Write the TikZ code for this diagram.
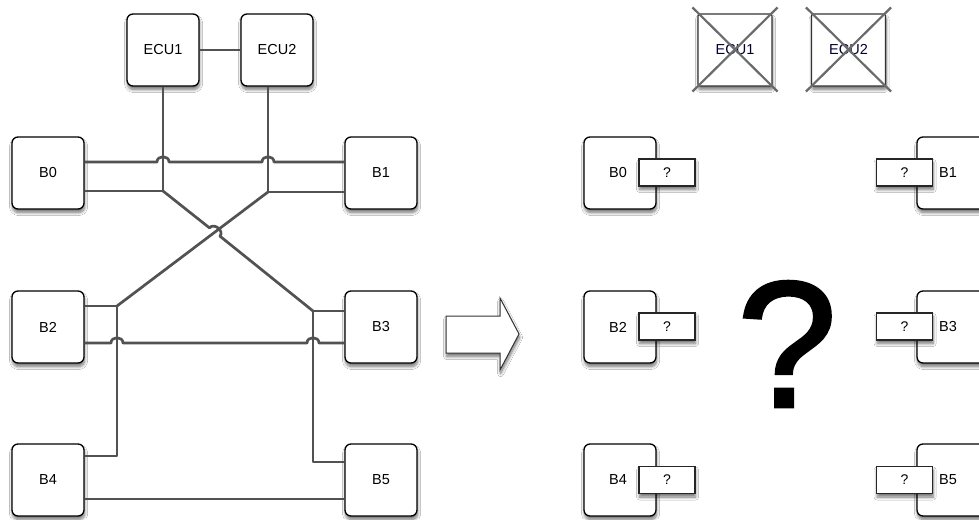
\documentclass[tikz,border=0pt]{standalone}
\usepackage{fontspec}
\setmainfont{Liberation Sans}
\newfontfamily\bigqfont[FakeBold=1.6]{Liberation Sans}
\usetikzlibrary{shadows,shadows.blur}
\begin{document}
\begin{tikzpicture}[x=1pt,y=-1pt,
  shd/.style={blur shadow={shadow xshift=0.6pt, shadow yshift=-3.5pt, shadow blur radius=3pt, shadow blur steps=8, shadow opacity=55}},
  box/.style={draw=black, line width=1.3pt, fill=white, rounded corners=6pt,
    minimum width=72pt, minimum height=72pt, inner sep=0pt,
    font=\fontsize{14.5}{17}\selectfont, shd},
  ecux/.style={draw=black!80, line width=1.2pt, fill=white, rounded corners=2pt,
    minimum width=74pt, minimum height=72pt, inner sep=0pt,
    font=\fontsize{14.5}{17}\selectfont, text=black!80!blue, shd},
  qbox/.style={draw=black!85, line width=1.1pt, fill=white,
    minimum width=56pt, minimum height=27pt, inner sep=0pt,
    font=\fontsize{14}{16}\selectfont, shd},
  wire/.style={draw=black!68, line width=2.7pt, line join=round},
  crossline/.style={draw=black!58, line width=2.2pt}]
\fill[white] (0,0) rectangle (979,519);
\useasboundingbox (0,0) rectangle (979,519);

% ---------- left network ----------
\node[box] (ECU1) at (163,50) {ECU1};
\node[box] (ECU2) at (277,50) {ECU2};
\node[box] (B0) at (48,173) {B0};
\node[box] (B1) at (381,173) {B1};
\node[box] (B2) at (48,327) {B2};
\node[box] (B3) at (381,327) {B3};
\node[box] (B4) at (48,480) {B4};
\node[box] (B5) at (381,480) {B5};

\coordinate (j0) at (163,191);
\coordinate (j1) at (268,192);
\coordinate (j2) at (117,306);
\coordinate (j3) at (313,311);
\coordinate (k2) at (117,456);
\coordinate (k3) at (313,462);

\draw[wire] (ECU1) -- (ECU2);
\draw[wire] (ECU1.south) -- (j0) -- (B0.east |- j0);
\draw[wire] (j1 |- ECU2.south) -- (j1) -- (B1.west |- j1);
\draw[wire] (B0.east |- 0,162) -- (157,162)
  .. controls (157,155) and (169,155) .. (169,162) -- (262,162)
  .. controls (262,155) and (274,155) .. (274,162) -- (B1.west |- 0,162);
\draw[wire] (j1) -- (j2);
\draw[wire] (j0) -- (209.5,227.9)
  .. controls (213.9,222.4) and (224.4,230.7) .. (220,236.2) -- (j3);
\draw[wire] (B2.east |- j2) -- (j2) -- (k2) -- (B4.east |- k2);
\draw[wire] (B3.west |- j3) -- (j3) -- (k3) -- (B5.west |- k3);
\draw[wire] (B2.east |- 0,343) -- (111,343)
  .. controls (111,336) and (123,336) .. (123,343) -- (307,343)
  .. controls (307,336) and (319,336) .. (319,343) -- (B3.west |- 0,343);
\draw[wire] (B4.east |- 0,499) -- (B5.west |- 0,499);

% ---------- arrow ----------
\draw[draw=black!80, line width=1pt, fill=white, line join=miter, shd]
  (446,316) -- (500,316) -- (500,298) -- (519,334) -- (500,370) -- (500,353) -- (446,353) -- cycle;

% ---------- right side ----------
\node[ecux] (X1) at (735,50) {ECU1};
\node[ecux] (X2) at (848.5,50) {ECU2};
\draw[crossline] ([shift={(-5,-6)}]X1.north west) -- ([shift={(5,5)}]X1.south east);
\draw[crossline] ([shift={(-5,5)}]X1.south west) -- ([shift={(5,-6)}]X1.north east);
\draw[crossline] ([shift={(-5,-6)}]X2.north west) -- ([shift={(5,5)}]X2.south east);
\draw[crossline] ([shift={(-5,5)}]X2.south west) -- ([shift={(5,-6)}]X2.north east);

\node[box, text width=72pt, align=center] (R0) at (620,173) {\hspace*{-4pt}B0};
\node[box, text width=72pt, align=center] (R1) at (953,173) {\hspace*{-10pt}B1};
\node[box, text width=72pt, align=center] (R2) at (620,327) {\hspace*{-4pt}B2};
\node[box, text width=72pt, align=center] (R3) at (953,327) {\hspace*{-10pt}B3};
\node[box, text width=72pt, align=center] (R4) at (620,480) {\hspace*{-4pt}B4};
\node[box, text width=72pt, align=center] (R5) at (953,480) {\hspace*{-10pt}B5};

\node[qbox] (Q0) at (667,172.5) {?};
\node[qbox] (Q1) at (904.5,172.5) {?};
\node[qbox] (Q2) at (667,326.5) {?};
\node[qbox] (Q3) at (904.5,326.5) {?};
\node[qbox] (Q4) at (667,480) {?};
\node[qbox] (Q5) at (904.5,480) {?};

\node[font=\bigqfont\fontsize{180}{180}\selectfont, inner sep=0pt] (BigQ) at (787,344) {?};
\end{tikzpicture}
\end{document}
